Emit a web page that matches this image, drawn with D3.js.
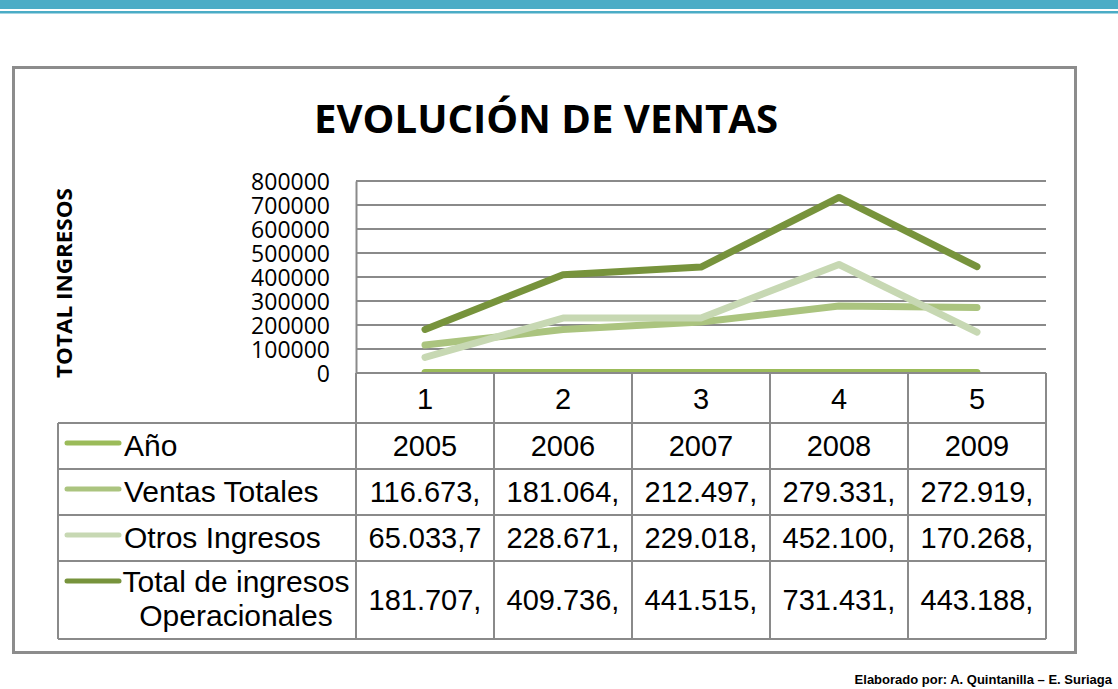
<!DOCTYPE html>
<html>
<head>
<meta charset="utf-8">
<script src="https://cdn.jsdelivr.net/npm/d3@7"></script>
<style>
  body { margin: 0; background: #fff; }
  svg { display: block; }
</style>
</head>
<body>
<div id="chart"></div>
<script>
var width = 1118, height = 689;

// Data
var categories = [1, 2, 3, 4, 5];
var anio = [2005, 2006, 2007, 2008, 2009];
var ventasTotales = [116673.42, 181064.15, 212497.33, 279331.08, 272919.61];
var otrosIngresos = [65033.7, 228671.27, 229018.44, 452100.12, 170268.39];
var totalIngresos = [181707.12, 409736.42, 441515.77, 731431.2, 443188.0];
var yTicks = [0, 100000, 200000, 300000, 400000, 500000, 600000, 700000, 800000];

var series = [
  { name: "Año", values: anio, color: "#9bbb59", year: true },
  { name: "Ventas Totales", values: ventasTotales, color: "#abc47f" },
  { name: "Otros Ingresos", values: otrosIngresos, color: "#c7d8b3" },
  { name: "Total de ingresos Operacionales", values: totalIngresos, color: "#77933c" }
];

var locale = d3.formatLocale({ decimal: ",", thousands: ".", grouping: [3], currency: ["", ""] });
var fmt = locale.format(",.2f");
// the table cells cut the numbers off after 8 characters
function cellText(s, v) { return s.year ? String(v) : fmt(v).slice(0, 8); }

var gridColor = "#8a8a8a";
var tableFont = "'Liberation Sans', Arial, sans-serif";
var calibri = "'Open Sans', 'Noto Sans', sans-serif";

var svg = d3.select("#chart").append("svg")
  .attr("width", width).attr("height", height);

// header bars
svg.append("rect").attr("x", 0).attr("y", 0).attr("width", width).attr("height", 9).attr("fill", "#4bacc6");
svg.append("rect").attr("x", 0).attr("y", 11).attr("width", width).attr("height", 2.5).attr("fill", "#4bacc6");

// outer frame
svg.append("rect")
  .attr("x", 13.5).attr("y", 67.5).attr("width", 1062).attr("height", 585)
  .attr("fill", "#fff").attr("stroke", "#8c8c8c").attr("stroke-width", 3);

svg.append("text")
  .attr("x", 546).attr("y", 133)
  .attr("text-anchor", "middle")
  .attr("font-family", calibri).attr("font-weight", "bold").attr("font-size", 39)
  .attr("textLength", 464).attr("lengthAdjust", "spacingAndGlyphs")
  .text("EVOLUCIÓN DE VENTAS");

// scales
var x = d3.scaleBand().domain(categories).range([356, 1046]);
var y = d3.scaleLinear().domain([0, 800000]).range([373, 181]);

// gridlines
svg.append("g").selectAll("line").data(yTicks).enter().append("line")
  .attr("x1", 356).attr("x2", 1046)
  .attr("y1", function(d){ return y(d); }).attr("y2", function(d){ return y(d); })
  .attr("stroke", gridColor).attr("stroke-width", 2);

var yAxis = svg.append("g")
  .attr("transform", "translate(356,0)")
  .call(d3.axisLeft(y).tickValues(yTicks).tickSize(0).tickPadding(26).tickFormat(d3.format("d")));
yAxis.select(".domain").attr("stroke", gridColor).attr("stroke-width", 2);
yAxis.selectAll("text")
  .attr("font-family", calibri).attr("font-size", 23).attr("fill", "#000")
  .attr("dy", "0.35em");

svg.append("text")
  .attr("transform", "translate(72,283) rotate(-90)")
  .attr("text-anchor", "middle")
  .attr("font-family", calibri).attr("font-weight", "bold").attr("font-size", 21)
  .attr("textLength", 190).attr("lengthAdjust", "spacingAndGlyphs")
  .text("TOTAL INGRESOS");

// lines
svg.append("clipPath").attr("id", "plotclip")
  .append("rect").attr("x", 340).attr("y", 160).attr("width", 720).attr("height", 213);

var line = d3.line()
  .x(function(d, i){ return x(categories[i]) + x.bandwidth() / 2; })
  .y(function(d){ return y(d); });

svg.append("g").attr("clip-path", "url(#plotclip)")
  .selectAll("path").data(series).enter().append("path")
  .attr("d", function(s){ return line(s.values); })
  .attr("fill", "none")
  .attr("stroke", function(s){ return s.color; })
  .attr("stroke-width", 7)
  .attr("stroke-linecap", "round")
  .attr("stroke-linejoin", "round");

// data table
var rowEdges = [373, 423, 469, 515, 561, 639];
var tableLeft = 58;
var g = svg.append("g");

// horizontal rules
rowEdges.forEach(function(r, i){
  g.append("line")
    .attr("x1", i === 0 ? 356 : tableLeft).attr("x2", 1046)
    .attr("y1", r).attr("y2", r)
    .attr("stroke", gridColor).attr("stroke-width", 2);
});
// vertical rules
var colEdges = categories.map(function(c){ return x(c); }).concat([x.range()[1]]);
colEdges.forEach(function(c){
  g.append("line").attr("x1", c).attr("x2", c)
    .attr("y1", 373).attr("y2", 639)
    .attr("stroke", gridColor).attr("stroke-width", 2);
});
g.append("line").attr("x1", tableLeft).attr("x2", tableLeft)
  .attr("y1", 423).attr("y2", 639)
  .attr("stroke", gridColor).attr("stroke-width", 2);

// category labels
g.selectAll(".cat").data(categories).enter().append("text")
  .attr("x", function(d){ return x(d) + x.bandwidth() / 2; })
  .attr("y", 409)
  .attr("text-anchor", "middle")
  .attr("font-family", tableFont).attr("font-size", 29)
  .text(function(d){ return d; });

series.forEach(function(s, i){
  var top = rowEdges[i + 1], bot = rowEdges[i + 2];
  var mid = (top + bot) / 2;
  var multi = i === 3;
  var legendY = multi ? 581 : top + 20;

  g.append("line")
    .attr("x1", 67).attr("x2", 119)
    .attr("y1", legendY).attr("y2", legendY)
    .attr("stroke", s.color).attr("stroke-width", 5).attr("stroke-linecap", "round");

  if (multi) {
    var t = g.append("text")
      .attr("text-anchor", "middle")
      .attr("font-family", tableFont).attr("font-size", 30);
    t.append("tspan").attr("x", 236).attr("y", 592).text("Total de ingresos");
    t.append("tspan").attr("x", 236).attr("y", 626).text("Operacionales");
  } else {
    g.append("text")
      .attr("x", 124).attr("y", mid + 10)
      .attr("font-family", tableFont).attr("font-size", 30)
      .text(s.name);
  }

  g.selectAll(null).data(s.values).enter().append("text")
    .attr("x", function(d, j){ return x(categories[j]) + x.bandwidth() / 2; })
    .attr("y", mid + 10)
    .attr("text-anchor", "middle")
    .attr("font-family", tableFont).attr("font-size", 29)
    .text(function(d){ return cellText(s, d); });
});

svg.append("text")
  .attr("x", 1112).attr("y", 684)
  .attr("text-anchor", "end")
  .attr("font-family", tableFont).attr("font-weight", "bold").attr("font-size", 13)
  .text("Elaborado por: A. Quintanilla – E. Suriaga");
</script>
</body>
</html>
